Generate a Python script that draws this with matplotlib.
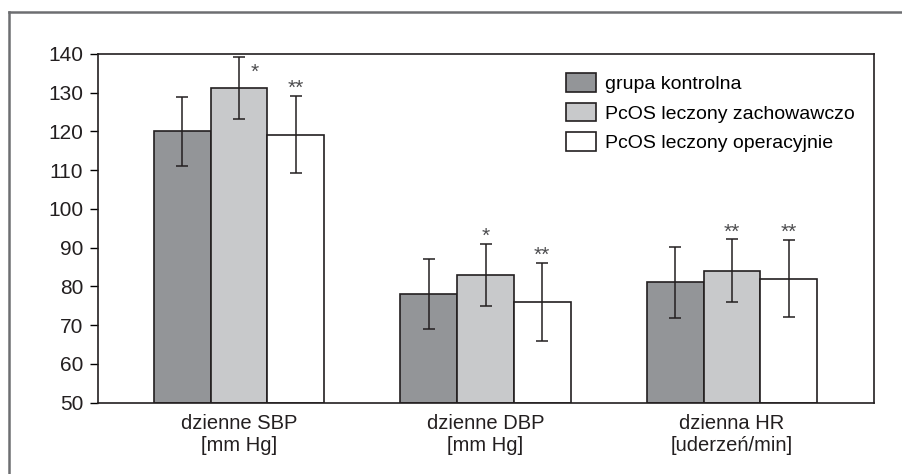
import numpy as np
import matplotlib
matplotlib.use("Agg")
import matplotlib.pyplot as plt
from matplotlib.lines import Line2D

plt.rcParams['font.family'] = ['Liberation Sans', 'DejaVu Sans']

categories = ["dzienne SBP\n[mm Hg]", "dzienne DBP\n[mm Hg]", "dzienna HR\n[uderzeń/min]"]
series = ["grupa kontrolna", "PcOS leczony zachowawczo", "PcOS leczony operacyjnie"]
means = [
    [120, 78, 81],
    [131.2, 83, 84],
    [119.2, 76, 82],
]
sds = [
    [8.8, 9, 9.2],
    [7.9, 8, 8.1],
    [10, 10.1, 10],
]
stars = [
    ["", "", ""],
    ["*", "*", "**"],
    ["**", "**", "**"],
]
colors = ["#939598", "#c8c9cb", "#ffffff"]

fig = plt.figure(figsize=(9.02, 4.74), dpi=100)
ax = fig.add_axes([0.1086, 0.1508, 0.8604, 0.7353])

x = np.arange(len(categories))
w = 0.23
edge = "#231f20"
for i, name in enumerate(series):
    xs = x + (i - 1) * w
    ax.bar(xs, np.array(means[i]) - 50, w, bottom=50, color=colors[i],
           edgecolor=edge, linewidth=1.2, label=name, zorder=2)
    ax.errorbar(xs, means[i], yerr=sds[i], fmt="none", ecolor="#231f20",
                elinewidth=1.1, capsize=4.5, capthick=1.1, zorder=3)
    for j, s in enumerate(stars[i]):
        if not s:
            continue
        top = means[i][j] + sds[i][j]
        if i == 1 and j == 0:
            # no room above, put it beside the cap
            ax.annotate(s, (xs[j], top), xytext=(11, -11), textcoords="offset points",
                        ha="center", va="center", fontsize=15, color="#4d4d4f")
        else:
            ax.annotate(s, (xs[j], top), xytext=(0, 5.5), textcoords="offset points",
                        ha="center", va="center", fontsize=15, color="#4d4d4f")

ax.set_xlim(-0.572, 2.576)
ax.set_ylim(50, 140)
ax.set_yticks(np.arange(50, 141, 10))
ax.set_xticks(x)
ax.set_xticklabels(categories, fontsize=14.5, linespacing=1.25, color="#231f20")
ax.tick_params(axis="x", length=0, pad=8)
ax.tick_params(axis="y", length=6, width=1, pad=4.5, labelsize=15, labelcolor="#231f20")
for sp in ax.spines.values():
    sp.set_color("#231f20")
    sp.set_linewidth(1.2)

leg = ax.legend(loc="upper left", bbox_to_anchor=(0.5935, 0.968), frameon=False,
                fontsize=14, handlelength=1.5, handleheight=1.1,
                handletextpad=0.5, labelspacing=0.5, borderaxespad=0)

# outer frame (top and left only)
fig.add_artist(Line2D([0.01, 1.0], [1 - 12 / 474, 1 - 12 / 474], color="#6d6e71", lw=1.8))
fig.add_artist(Line2D([0.01, 0.01], [0.0, 1 - 12 / 474], color="#6d6e71", lw=1.8))

fig.savefig("out.png", dpi=100)
